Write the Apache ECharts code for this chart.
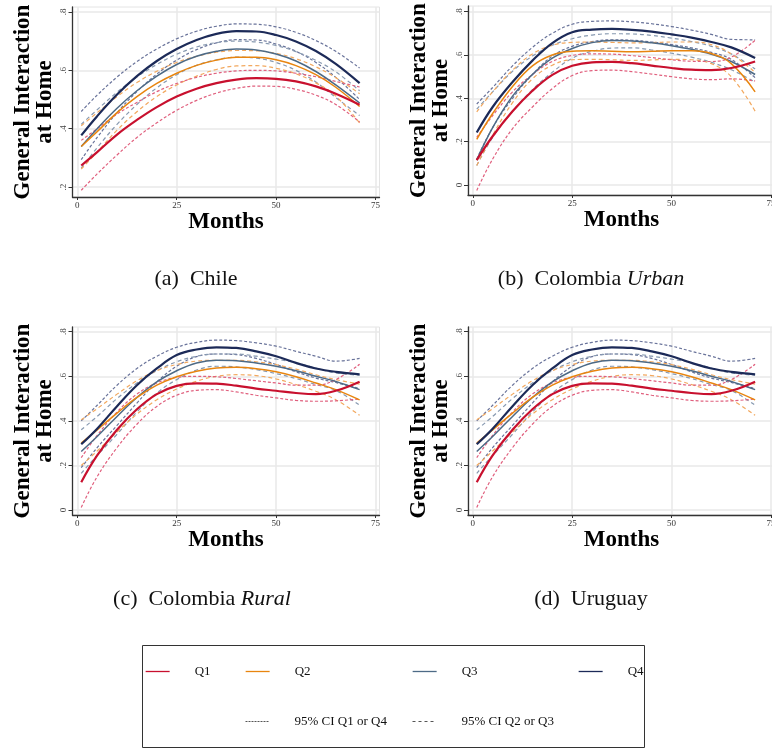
<!DOCTYPE html>
<html>
<head>
<meta charset="utf-8">
<script src="https://cdn.jsdelivr.net/npm/echarts@6/dist/echarts.min.js"></script>
<style>
  html, body { margin: 0; padding: 0; background: #fff; }
  #chart { width: 772px; height: 749px; }
</style>
</head>
<body>
<div id="chart"></div>
<script>
// months at which the fitted curves are read
const months = [1, 5, 10, 15, 20, 25, 30, 35, 40, 45, 50, 55, 60, 65, 71];
const xTicks = [0, 25, 50, 75];

// (a) Chile
const chileQ1   = [0.274, 0.32, 0.38, 0.43, 0.474, 0.51, 0.537, 0.556, 0.568, 0.573, 0.571, 0.562, 0.545, 0.52, 0.482];
const chileQ1Hi = [0.36, 0.40, 0.45, 0.49, 0.527, 0.555, 0.576, 0.59, 0.598, 0.60, 0.598, 0.59, 0.578, 0.562, 0.543];
const chileQ1Lo = [0.189, 0.245, 0.31, 0.37, 0.42, 0.463, 0.497, 0.522, 0.538, 0.546, 0.545, 0.535, 0.515, 0.483, 0.423];
const chileQ2   = [0.339, 0.39, 0.455, 0.51, 0.555, 0.59, 0.617, 0.635, 0.645, 0.645, 0.636, 0.616, 0.585, 0.542, 0.476];
const chileQ2Hi = [0.41, 0.455, 0.51, 0.558, 0.597, 0.627, 0.648, 0.662, 0.668, 0.667, 0.658, 0.64, 0.612, 0.575, 0.52];
const chileQ2Lo = [0.262, 0.32, 0.395, 0.458, 0.51, 0.55, 0.58, 0.603, 0.615, 0.616, 0.607, 0.588, 0.557, 0.512, 0.42];
const chileQ3   = [0.339, 0.40, 0.47, 0.53, 0.58, 0.62, 0.648, 0.665, 0.673, 0.67, 0.656, 0.632, 0.596, 0.55, 0.488];
const chileQ3Hi = [0.415, 0.465, 0.525, 0.577, 0.62, 0.655, 0.68, 0.695, 0.70, 0.697, 0.685, 0.664, 0.634, 0.595, 0.53];
const chileQ3Lo = [0.265, 0.335, 0.415, 0.483, 0.54, 0.585, 0.617, 0.636, 0.645, 0.642, 0.627, 0.60, 0.56, 0.507, 0.445];
const chileQ4   = [0.377, 0.443, 0.517, 0.58, 0.632, 0.673, 0.704, 0.725, 0.734, 0.733, 0.721, 0.699, 0.666, 0.622, 0.556];
const chileQ4Hi = [0.459, 0.515, 0.577, 0.63, 0.673, 0.708, 0.734, 0.751, 0.759, 0.758, 0.749, 0.73, 0.702, 0.665, 0.608];
const chileQ4Lo = [0.294, 0.37, 0.455, 0.527, 0.587, 0.635, 0.671, 0.694, 0.705, 0.704, 0.69, 0.665, 0.627, 0.576, 0.50];

// (b) Colombia Urban
const urbanQ1   = [0.115, 0.225, 0.34, 0.435, 0.508, 0.55, 0.566, 0.568, 0.562, 0.551, 0.54, 0.532, 0.53, 0.54, 0.570];
const urbanQ1Hi = [0.22, 0.32, 0.43, 0.51, 0.57, 0.598, 0.605, 0.604, 0.597, 0.588, 0.578, 0.571, 0.57, 0.59, 0.668];
const urbanQ1Lo = [-0.025, 0.12, 0.26, 0.36, 0.445, 0.505, 0.528, 0.53, 0.523, 0.512, 0.50, 0.49, 0.486, 0.49, 0.48];
const urbanQ2   = [0.211, 0.33, 0.455, 0.55, 0.60, 0.617, 0.619, 0.617, 0.615, 0.617, 0.62, 0.62, 0.607, 0.56, 0.43];
const urbanQ2Hi = [0.338, 0.43, 0.53, 0.605, 0.645, 0.658, 0.66, 0.658, 0.656, 0.657, 0.66, 0.66, 0.648, 0.605, 0.52];
const urbanQ2Lo = [0.09, 0.23, 0.38, 0.49, 0.553, 0.578, 0.58, 0.578, 0.575, 0.577, 0.58, 0.578, 0.56, 0.50, 0.341];
const urbanQ3   = [0.115, 0.265, 0.41, 0.51, 0.585, 0.63, 0.657, 0.667, 0.665, 0.656, 0.643, 0.626, 0.603, 0.57, 0.51];
const urbanQ3Hi = [0.35, 0.43, 0.525, 0.595, 0.645, 0.675, 0.692, 0.698, 0.697, 0.69, 0.678, 0.662, 0.64, 0.605, 0.535];
const urbanQ3Lo = [0.09, 0.22, 0.34, 0.44, 0.52, 0.585, 0.617, 0.632, 0.633, 0.623, 0.608, 0.59, 0.566, 0.532, 0.475];
const urbanQ4   = [0.242, 0.36, 0.475, 0.574, 0.655, 0.705, 0.717, 0.72, 0.716, 0.708, 0.695, 0.68, 0.66, 0.635, 0.586];
const urbanQ4Hi = [0.374, 0.45, 0.55, 0.635, 0.70, 0.742, 0.755, 0.757, 0.753, 0.744, 0.731, 0.715, 0.695, 0.672, 0.670];
const urbanQ4Lo = [0.12, 0.265, 0.40, 0.51, 0.595, 0.64, 0.662, 0.67, 0.668, 0.66, 0.648, 0.633, 0.612, 0.58, 0.495];

// (c) Colombia Rural -- (d) Uruguay is drawn with the very same curves in the source
const ruralQ1   = [0.125, 0.245, 0.36, 0.452, 0.52, 0.557, 0.568, 0.567, 0.558, 0.545, 0.535, 0.525, 0.52, 0.535, 0.576];
const ruralQ1Hi = [0.235, 0.335, 0.44, 0.52, 0.57, 0.595, 0.60, 0.598, 0.59, 0.58, 0.57, 0.56, 0.56, 0.585, 0.654];
const ruralQ1Lo = [0.012, 0.15, 0.28, 0.385, 0.465, 0.515, 0.537, 0.54, 0.53, 0.515, 0.503, 0.492, 0.488, 0.49, 0.498];
const ruralQ2   = [0.30, 0.36, 0.435, 0.505, 0.56, 0.598, 0.623, 0.637, 0.64, 0.634, 0.62, 0.598, 0.57, 0.54, 0.494];
const ruralQ2Hi = [0.405, 0.455, 0.52, 0.58, 0.625, 0.653, 0.668, 0.672, 0.672, 0.665, 0.652, 0.632, 0.607, 0.585, 0.565];
const ruralQ2Lo = [0.20, 0.265, 0.35, 0.43, 0.495, 0.543, 0.578, 0.60, 0.607, 0.603, 0.588, 0.563, 0.533, 0.495, 0.425];
const ruralQ3   = [0.263, 0.33, 0.42, 0.505, 0.575, 0.625, 0.66, 0.672, 0.67, 0.66, 0.645, 0.625, 0.60, 0.577, 0.54];
const ruralQ3Hi = [0.36, 0.42, 0.50, 0.57, 0.625, 0.665, 0.69, 0.70, 0.70, 0.69, 0.677, 0.66, 0.637, 0.615, 0.605];
const ruralQ3Lo = [0.165, 0.245, 0.34, 0.44, 0.525, 0.585, 0.628, 0.645, 0.642, 0.63, 0.612, 0.59, 0.563, 0.537, 0.47];
const ruralQ4   = [0.295, 0.365, 0.466, 0.56, 0.635, 0.695, 0.72, 0.73, 0.727, 0.712, 0.69, 0.66, 0.635, 0.62, 0.609];
const ruralQ4Hi = [0.40, 0.47, 0.56, 0.635, 0.69, 0.73, 0.752, 0.762, 0.76, 0.75, 0.735, 0.712, 0.69, 0.668, 0.68];
const ruralQ4Lo = [0.19, 0.28, 0.38, 0.48, 0.575, 0.645, 0.688, 0.70, 0.697, 0.68, 0.653, 0.62, 0.592, 0.572, 0.545];

// colours (solid line, CI dashes)
const colQ = ['#c8102e', '#e8850f', '#4d6a86', '#1c2a58'];
const colCI = ['#e0607e', '#f2a85e', '#8799b0', '#69739a'];
const serif = 'Liberation Serif';

const panels = [
  { left: 72.5, top: 7, height: 190, yMin: 0.166, yMax: 0.817, yTicks: [0.2, 0.4, 0.6, 0.8],
    q: [chileQ1, chileQ2, chileQ3, chileQ4], hi: [chileQ1Hi, chileQ2Hi, chileQ3Hi, chileQ4Hi], lo: [chileQ1Lo, chileQ2Lo, chileQ3Lo, chileQ4Lo] },
  { left: 468, top: 6, height: 189, yMin: -0.046, yMax: 0.826, yTicks: [0, 0.2, 0.4, 0.6, 0.8],
    q: [urbanQ1, urbanQ2, urbanQ3, urbanQ4], hi: [urbanQ1Hi, urbanQ2Hi, urbanQ3Hi, urbanQ4Hi], lo: [urbanQ1Lo, urbanQ2Lo, urbanQ3Lo, urbanQ4Lo] },
  { left: 72.5, top: 327, height: 188, yMin: -0.022, yMax: 0.821, yTicks: [0, 0.2, 0.4, 0.6, 0.8],
    q: [ruralQ1, ruralQ2, ruralQ3, ruralQ4], hi: [ruralQ1Hi, ruralQ2Hi, ruralQ3Hi, ruralQ4Hi], lo: [ruralQ1Lo, ruralQ2Lo, ruralQ3Lo, ruralQ4Lo] },
  { left: 468, top: 327, height: 188, yMin: -0.022, yMax: 0.821, yTicks: [0, 0.2, 0.4, 0.6, 0.8],
    q: [ruralQ1, ruralQ2, ruralQ3, ruralQ4], hi: [ruralQ1Hi, ruralQ2Hi, ruralQ3Hi, ruralQ4Hi], lo: [ruralQ1Lo, ruralQ2Lo, ruralQ3Lo, ruralQ4Lo] }
];

const qNames = ['Q1', 'Q2', 'Q3', 'Q4'];
const ciNames = ['95% CI Q1 or Q4', '95% CI Q2 or Q3', '95% CI Q2 or Q3', '95% CI Q1 or Q4'];
const ciDash = [[3, 2], [4, 3], [4, 3], [3, 2]];
const qWidth = [2.2, 1.5, 1.5, 2.2];

const pairs = vals => months.map((m, i) => [m, vals[i]]);
const fmtY = v => (Math.abs(v) < 1e-9 ? '0' : String(+v.toFixed(1)).replace(/^0/, ''));

const grids = [], xAxes = [], yAxes = [], series = [];
panels.forEach((p, k) => {
  grids.push({ left: p.left, top: p.top, width: 307, height: p.height, show: true,
    borderColor: '#e4e4e4', borderWidth: 1, containLabel: false, outerBoundsMode: 'none' });
  xAxes.push({
    type: 'value', gridIndex: k, min: -1.2, max: 76,
    name: 'Months', nameLocation: 'middle', nameGap: 9,
    nameTextStyle: { fontFamily: serif, fontWeight: 'bold', fontSize: 23, color: '#000', verticalAlign: 'top' },
    axisLine: { onZero: false, lineStyle: { color: '#333', width: 1.3 } },
    axisTick: { length: 3, customValues: xTicks, lineStyle: { color: '#333' } },
    axisLabel: { customValues: xTicks, fontFamily: serif, fontSize: 9, color: '#333', margin: 4, hideOverlap: false },
    splitLine: { show: true, lineStyle: { color: '#e8e8e8', width: 1.5 } }
  });
  yAxes.push({
    type: 'value', gridIndex: k, min: p.yMin, max: p.yMax,
    name: 'General Interaction\nat Home', nameLocation: 'middle', nameGap: 16,
    nameTextStyle: { fontFamily: serif, fontWeight: 'bold', fontSize: 23, lineHeight: 22, color: '#000' },
    axisLine: { onZero: false, lineStyle: { color: '#333', width: 1.3 } },
    axisTick: { length: 4, customValues: p.yTicks, lineStyle: { color: '#333' } },
    axisLabel: { customValues: p.yTicks, rotate: 90, fontFamily: serif, fontSize: 9, color: '#444', margin: 4, formatter: fmtY },
    splitLine: { show: true, lineStyle: { color: '#e8e8e8', width: 1.5 } }
  });
  // confidence bands first, so the fitted curves sit on top
  [3, 2, 1, 0].forEach(i => {
    [p.hi[i], p.lo[i]].forEach(vals => {
      series.push({ type: 'line', name: ciNames[i], xAxisIndex: k, yAxisIndex: k, data: pairs(vals),
        smooth: 0.4, symbol: 'none', silent: true, z: 2,
        lineStyle: { color: colCI[i], width: 1.2, type: ciDash[i] } });
    });
  });
  [2, 1, 0, 3].forEach(i => {
    series.push({ type: 'line', name: qNames[i], xAxisIndex: k, yAxisIndex: k, data: pairs(p.q[i]),
      smooth: 0.4, symbol: 'none', silent: true, z: 3,
      lineStyle: { color: colQ[i], width: qWidth[i] } });
  });
});

// legend entries placed one by one like the Stata key
const legendText = { fontFamily: serif, fontSize: 13, color: '#111', padding: [0, 0, 0, 20] };
const legendAt = (name, left, top, lineStyle) => ({
  data: [name], left: left, top: top, padding: 0, itemWidth: 24, itemHeight: 10,
  selectedMode: false, textStyle: legendText,
  itemStyle: { opacity: 0 }, lineStyle: lineStyle
});

const legends = [
  legendAt('Q1', 145, 665, { width: 1.3 }),
  legendAt('Q2', 245, 665, { width: 1.3 }),
  legendAt('Q3', 412, 665, { width: 1.3 }),
  legendAt('Q4', 578, 665, { width: 1.3 }),
  legendAt('95% CI Q1 or Q4', 245, 715, { color: '#555', width: 1, type: [2, 1] }),
  legendAt('95% CI Q2 or Q3', 412, 715, { color: '#555', width: 1, type: [3, 3] })
];

const capFont = '22px "Liberation Serif"';
const captions = [
  { x: 196, y: 279, text: '(a)  Chile' },
  { x: 591, y: 279, text: '(b)  Colombia {i|Urban}' },
  { x: 202, y: 599, text: '(c)  Colombia {i|Rural}' },
  { x: 591, y: 599, text: '(d)  Uruguay' }
].map(c => ({
  type: 'text', x: c.x, y: c.y, silent: true,
  style: { text: c.text, font: capFont, fill: '#111', align: 'center', verticalAlign: 'middle',
    rich: { i: { fontStyle: 'italic', fontFamily: serif, fontSize: 22, fill: '#111' } } }
}));

const chart = echarts.init(document.getElementById('chart'), null, { renderer: 'canvas' });
chart.setOption({
  backgroundColor: '#fff',
  animation: false,
  grid: grids,
  xAxis: xAxes,
  yAxis: yAxes,
  legend: legends,
  series: series,
  graphic: captions.concat([{
    type: 'rect', silent: true,
    shape: { x: 142.5, y: 645.5, width: 502, height: 102 },
    style: { fill: 'none', stroke: '#333', lineWidth: 1 }
  }])
});
</script>
</body>
</html>
